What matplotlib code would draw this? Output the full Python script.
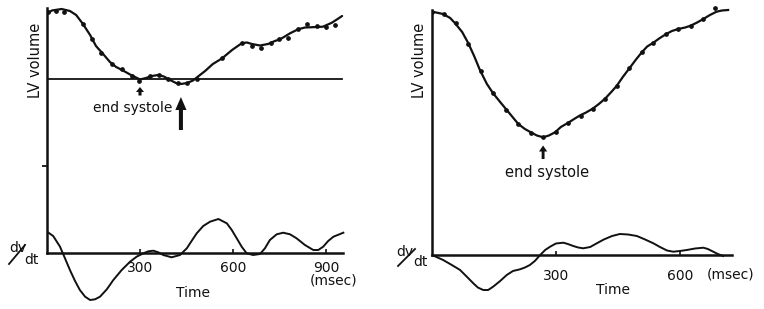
import numpy as np
import matplotlib.pyplot as plt

plt.rcParams['font.family'] = ['DejaVu Sans']

# ---- left recording (time in msec, heights in arbitrary units) ----
# LV volume relative to the end-systolic reference line
left_dot_t = [4, 29, 56, 115, 144, 174, 209, 241, 273, 298, 332, 361, 391, 424,
              451, 485, 565, 628, 660, 689, 722, 749, 778, 811, 840, 870, 899, 929]
left_dot_v = [66.8, 67.8, 66.8, 54.5, 39.2, 25.8, 14.5, 9.2, 2.5, -2.2, 2.5, 3.2,
              -0.8, -4.8, -4.2, -0.2, 20.2, 35.2, 32.5, 30.8, 35.2, 39.5, 40.2,
              49.2, 54.2, 52.5, 51.2, 53.5]
left_fit_t = [0, 16, 47, 74, 94, 116, 139, 158, 181, 203, 223, 242, 268, 300, 319,
              339, 358, 377, 397, 416, 432, 452, 471, 484, 510, 535, 565, 597, 628,
              645, 661, 687, 713, 735, 752, 784, 810, 832, 848, 871, 890, 906, 919,
              935, 952]
left_fit_v = [65.2, 68, 69.5, 67.5, 63.5, 54.5, 43.5, 32.5, 24.5, 16.5, 11.5, 8.5,
              4, -1, 0.5, 2.5, 3.5, 2, -1.5, -4.5, -5.5, -4.5, -2, 1.2, 7.5, 14.5,
              20.2, 28.5, 35.2, 36, 34.5, 33, 34.5, 37.5, 39.2, 45.2, 49.2, 51, 51.2,
              51.5, 51.8, 54, 55.8, 59, 62.5]
left_dvdt_t = [0, 20, 42, 58, 74, 90, 106, 123, 139, 155, 171, 193, 214, 241, 268,
               289, 311, 327, 343, 359, 375, 402, 429, 451, 467, 483, 504, 526, 553,
               580, 596, 612, 628, 644, 665, 687, 703, 719, 741, 762, 784, 805, 832,
               859, 875, 891, 907, 924, 956]
left_dvdt = [20.8, 16.5, 5.8, -5.8, -17.5, -28.2, -37.5, -44.2, -47.5, -46.8, -44.2,
             -36.8, -27.5, -17.5, -9.2, -4.2, -0.8, 1.2, 1.8, 0.2, -2.5, -4.8, -2.5,
             4.2, 11.8, 19.2, 26.5, 30.8, 33.5, 29.2, 22.5, 14.2, 5.8, -0.8, -2.5,
             -1.5, 4.2, 12.5, 18.2, 19.8, 18.2, 14.2, 7.5, 2.5, 2.5, 5.8, 11.5, 15.8,
             19.8]
left_ticks = [300, 600, 900]

# ---- right recording ----
right_dot_t = [1, 29, 57, 88, 118, 148, 179, 209, 240, 268, 300, 329, 360, 389,
               419, 447, 478, 508, 536, 567, 596, 626, 657, 685]
right_dot_v = [243.3, 241, 231.7, 211, 184.3, 161.7, 145, 131, 122.3, 117.7, 123,
               132.3, 139.3, 146.3, 156.3, 169, 186.7, 202.7, 212.3, 221, 226,
               229.3, 236, 247.3]
right_fit_t = [1, 27, 44, 56, 73, 88, 102, 116, 133, 148, 165, 181, 194, 209, 225,
               241, 254, 269, 283, 298, 312, 330, 346, 358, 373, 389, 404, 419, 433,
               447, 462, 478, 493, 508, 521, 536, 550, 567, 581, 596, 613, 626, 642,
               657, 673, 689, 702, 717]
right_fit_v = [243.3, 241, 237, 231.7, 223, 211.7, 199, 185, 171, 161.7, 153, 145,
               138.5, 131, 126, 122.3, 119.5, 117.7, 119.5, 122.7, 128, 132.3, 136.5,
               139.5, 142.5, 146.3, 151, 156.3, 162.5, 169, 178, 186.7, 195, 202.7,
               208.5, 212.3, 216.5, 221, 224, 226, 227.5, 229.3, 232.5, 236, 240,
               243.3, 244.5, 245]
right_dvdt_t = [0, 27, 48, 68, 85, 100, 111, 124, 136, 148, 165, 181, 196, 213, 225,
                237, 249, 262, 274, 286, 300, 318, 329, 342, 354, 366, 383, 399, 416,
                436, 455, 475, 496, 516, 536, 552, 569, 584, 600, 617, 637, 657, 668,
                681, 692, 705]
right_dvdt = [0, -5, -10, -15, -22, -28.3, -32.5, -35, -35, -31.7, -26, -20, -16,
              -14.3, -12.5, -10, -6, 0, 5, 8.3, 11.5, 12.3, 11, 9, 7.5, 6.7, 8, 11.7,
              15.5, 19, 21, 20.5, 19, 15.5, 11.7, 8, 4.5, 3.3, 4, 5, 6.5, 7.3, 6, 3.3,
              1, -1]
right_ticks = [300, 600]

W, H = 764, 309
fig = plt.figure(figsize=(W / 100, H / 100), dpi=100)


def axes_px(left, top, right, bottom):
    return fig.add_axes([left / W, 1 - bottom / H, (right - left) / W, (bottom - top) / H])


INK = '#111111'
REF = 174  # height of the reference line above the dv/dt baseline

ax1 = axes_px(47, 5, 360, 305)
ax1.set_xlim(0, 313 / 0.31)
ax1.set_ylim(-52.5, 247.5)
ax2 = axes_px(432, 5, 764, 305)
ax2.set_xlim(0, 332 / 0.413)
ax2.set_ylim(-50, 250)

for ax in (ax1, ax2):
    ax.patch.set_visible(False)
    ax.spines[['top', 'right']].set_visible(False)
    ax.spines['bottom'].set_position(('data', 0))
    for s in ('left', 'bottom'):
        ax.spines[s].set_linewidth(1.8)
        ax.spines[s].set_color(INK)
    ax.tick_params(axis='x', direction='in', length=3, width=1.2, labelsize=10,
                   colors=INK)
    ax.tick_params(axis='y', direction='out', length=3.5, width=1.2)

# left panel
ax1.spines['left'].set_bounds(0, 244.5)
ax1.spines['bottom'].set_bounds(0, 955)
ax1.set_xticks(left_ticks)
ax1.tick_params(axis='x', pad=6)
ax1.set_yticks([86.5])
ax1.set_yticklabels([])
ax1.plot([0, 952], [REF, REF], color=INK, lw=1.3)
ax1.plot(left_fit_t, np.array(left_fit_v) + REF, color=INK, lw=1.6,
         solid_joinstyle='round', solid_capstyle='round')
ax1.plot(left_dot_t, np.array(left_dot_v) + REF, 'o', color=INK, ms=2.4)
ax1.plot(left_dvdt_t, left_dvdt, color=INK, lw=1.4, solid_joinstyle='round')
ax1.arrow(300, 157, 0, 3.5, width=10, head_width=26, head_length=5,
          color=INK, lw=0)
ax1.arrow(432, 122.5, 0, 20, width=13, head_width=36, head_length=13,
          color=INK, lw=0)
ax1.text(277, 144.5, 'end systole', ha='center', va='center', fontsize=10, color=INK)
ax1.text(923, -28.5, '(msec)', ha='center', va='center', fontsize=10, color=INK)
ax1.text(471, -40.5, 'Time', ha='center', va='center', fontsize=10, color=INK)

# right panel
ax2.spines['left'].set_bounds(0, 245)
ax2.spines['bottom'].set_bounds(0, 726)
ax2.set_xticks(right_ticks)
ax2.tick_params(axis='x', pad=10)
ax2.set_yticks([])
ax2.plot(right_fit_t, right_fit_v, color=INK, lw=1.6, solid_joinstyle='round')
ax2.plot(right_dot_t, right_dot_v, 'o', color=INK, ms=2.4)
ax2.plot(right_dvdt_t, right_dvdt, color=INK, lw=1.4, solid_joinstyle='round')
ax2.arrow(269, 96, 0, 7.5, width=7, head_width=20, head_length=6,
          color=INK, lw=0)
ax2.text(278, 82, 'end systole', ha='center', va='center', fontsize=10.5, color=INK)
ax2.text(724, -20, '(msec)', ha='center', va='center', fontsize=10, color=INK)
ax2.text(438, -35, 'Time', ha='center', va='center', fontsize=10, color=INK)

# axis titles placed in figure pixels
def fig_px(x, y):
    return x / W, 1 - y / H

for x, y in ((35.5, 60), (419, 60)):
    fig.text(*fig_px(x, y), 'LV volume', rotation=90, ha='center', va='center',
             fontsize=10.5, color=INK)

for (dvx, dvy), (dtx, dty), (sx0, sy0, sx1, sy1) in (
        ((18, 248), (31, 260), (9, 264, 25, 245)),
        ((405, 252), (420, 261.5), (398, 266, 415, 249))):
    fig.text(*fig_px(dvx, dvy), 'dv', ha='center', va='center', fontsize=10, color=INK)
    fig.text(*fig_px(dtx, dty), 'dt', ha='center', va='center', fontsize=10, color=INK)
    fig.add_artist(plt.Line2D([sx0 / W, sx1 / W], [1 - sy0 / H, 1 - sy1 / H],
                              color=INK, lw=1.3, transform=fig.transFigure))

fig.savefig('out.png', dpi=100)
